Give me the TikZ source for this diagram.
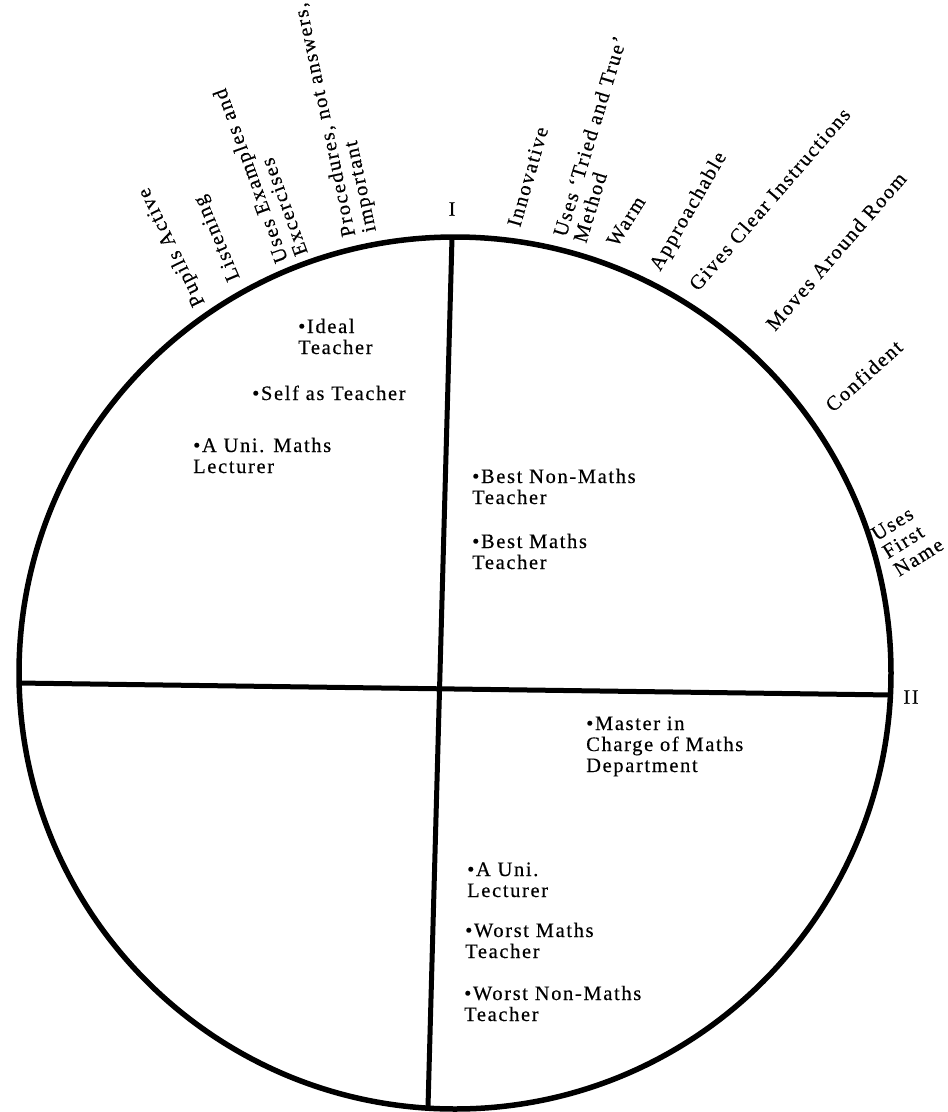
\documentclass[tikz,border=0pt]{standalone}
\usepackage{fontspec}
\newfontfamily\lblfont[LetterSpace=8,FakeBold=0.4]{Liberation Serif}
\begin{document}
\begin{tikzpicture}[x=1pt,y=-1pt,
  lbl/.style={font={\lblfont\fontsize{20.5}{21}\selectfont}, inner sep=0pt, align=left, anchor=base west},
  num/.style={font={\lblfont\fontsize{20.5}{21}\selectfont}, inner sep=0pt, anchor=center},
  rim/.style={line width=5.5pt},
  axis/.style={line width=5pt}]
\useasboundingbox (0,0) rectangle (948,1112);
% circle and axes
\draw[rim] (455,673) circle[radius=436];
\coordinate (top) at (452,238);
\coordinate (bot) at (428,1107);
\coordinate (lft) at (18,683);
\coordinate (rgt) at (892,695);
\draw[axis] (top) -- (bot);
\draw[axis] (lft) -- (rgt);
\node[num] (one) at (452,209) {I};
\node[num] (two) at (911,697) {II};
% inner labels (positions = baseline of the last line)
\node[lbl] (ideal) at (298,354) {•Ideal\\Teacher};
\node[lbl] (self) at (252,400) {•Self as Teacher};
\node[lbl] (unimaths) at (193,473) {•A Uni. Maths\\Lecturer};
\node[lbl] (bestnon) at (472,504) {•Best Non-Maths\\Teacher};
\node[lbl] (bestmaths) at (472,569) {•Best Maths\\Teacher};
\node[lbl] (master) at (586,772) {•Master in\\Charge of Maths\\Department};
\node[lbl] (unilect) at (467,897) {•A Uni.\\Lecturer};
\node[lbl] (worstm) at (465,958) {•Worst Maths\\Teacher};
\node[lbl] (worstn) at (464,1021) {•Worst Non-Maths\\Teacher};
% rim labels (positions = start of the last line's baseline)
\node[lbl, rotate=116] (pupils) at (205,303) {Pupils Active};
\node[lbl, rotate=113] (listen) at (240,278) {Listening};
\node[lbl, rotate=110] (examples) at (308,253) {Uses Examples and\\Excercises};
\node[lbl, rotate=102] (proc) at (376,231) {Procedures, not answers,\\important};
\node[lbl, rotate=74] (innov) at (520,228) {Innovative};
\node[lbl, rotate=73] (tried) at (586,244) {Uses ‘Tried and True’\\Method};
\node[lbl, rotate=58] (warm) at (617,248) {Warm};
\node[lbl, rotate=60] (approach) at (660,272) {Approachable};
\node[lbl, rotate=49] (gives) at (698,292) {Gives Clear Instructions};
\node[lbl, rotate=49] (moves) at (775,332) {Moves Around Room};
\node[lbl, rotate=42] (conf) at (833,413) {Confident};
\node[lbl, rotate=32] (firstname) at (899,577) {Uses\\First\\Name};
\end{tikzpicture}
\end{document}
